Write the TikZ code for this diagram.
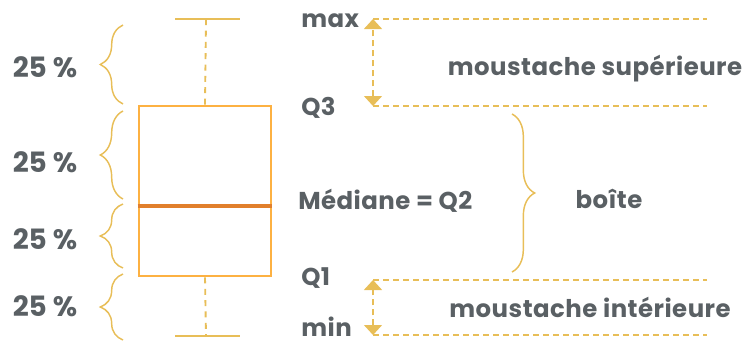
\documentclass[tikz,border=0pt]{standalone}
\usepackage{fontspec}
\setmainfont{Poppins}
\newfontfamily\labfont{Poppins}[LetterSpace=2.0]
\usepackage{tikz}
\usetikzlibrary{arrows.meta,positioning,decorations.pathreplacing}

\definecolor{txtgray}{HTML}{5A6064}
\definecolor{gold}{HTML}{E8BE58}
\definecolor{boxorange}{HTML}{FDB142}
\definecolor{medorange}{HTML}{E17F2C}

\begin{document}
\begin{tikzpicture}[x=0.75pt, y=-0.75pt]
    % Define styles
    \tikzstyle{lab} = [text=txtgray, font=\labfont\fontsize{18.3}{21}\selectfont\bfseries, inner sep=0pt]
    \tikzstyle{pct} = [text=txtgray, font=\fontsize{21}{24}\selectfont\bfseries, inner sep=0pt, anchor=base]
    \tikzstyle{brc} = [draw=gold, line width=1.1pt, decorate, decoration={brace, amplitude=17pt}]
    \tikzstyle{guide} = [draw=gold, line width=1.1pt, dash pattern=on 4.5pt off 3pt]
    \tikzstyle{span} = [draw=gold, line width=1.1pt, dash pattern=on 4.5pt off 3pt, {Triangle[width=13.5pt, length=7.5pt, fill=gold]}-{Triangle[width=13.5pt, length=7.5pt, fill=gold]}]
    \tikzstyle{whisk} = [draw=gold, line width=1.4pt]

    \useasboundingbox (0,0) rectangle (749,343);

    % Box plot
    \node (box) [draw=boxorange, line width=2.2pt, minimum width=99pt, minimum height=127.5pt, inner sep=0pt] at (205,191) {};
    \draw [draw=medorange, line width=3.2pt] (box.west |- 0,206) -- (box.east |- 0,206);
    \coordinate (top) at (206,19);
    \coordinate (bot) at (206,336);
    \draw [whisk, dash pattern=on 4.5pt off 4pt] (box.north) -- (top);
    \draw [whisk, dash pattern=on 4.5pt off 4pt] (box.south) -- (bot);
    \draw [whisk] (175,19) -- (240,19);
    \draw [whisk] (175,336) -- (240,336);

    % Quartile braces
    \draw [brc] (123,104) -- (123,25);
    \draw [brc] (123,199) -- (123,111);
    \draw [brc] (123,268) -- (123,204);
    \draw [brc] (123,340) -- (123,274);
    \node (p1) [pct] at (45,77) {25 \%};
    \node (p2) [pct] at (45,172) {25 \%};
    \node (p3) [pct] at (45,249) {25 \%};
    \node (p4) [pct] at (45,316) {25 \%};

    % Labels
    \node (max) [lab, anchor=base west] at (301,27) {max};
    \node (q3) [lab, anchor=base west] at (301,115) {Q3};
    \node (med) [lab, anchor=base west] at (298,209) {Médiane = Q2};
    \node (q1) [lab, anchor=base west] at (301,285) {Q1};
    \node (min) [lab, anchor=base west] at (301,336) {min};

    % Whisker spans
    \coordinate (amax) at (373,19);
    \coordinate (aq3) at (373,106);
    \coordinate (aq1) at (373,280);
    \coordinate (amin) at (373,335);
    \draw [span] (aq3) -- (amax);
    \draw [span] (amin) -- (aq1);
    \draw [guide] (amax) -- (707,19);
    \draw [guide] (aq3) -- (707,106);
    \draw [guide] (aq1) -- (707,280);
    \draw [guide] (amin) -- (707,335);
    \node (sup) [lab, anchor=base] at (595,75) {moustache supérieure};
    \node (inf) [lab, anchor=base] at (590,317) {moustache intérieure};

    % Box brace
    \draw [brc] (512,114) -- (512,272);
    \node (boite) [lab, anchor=base] at (609,208) {boîte};
\end{tikzpicture}
\end{document}
